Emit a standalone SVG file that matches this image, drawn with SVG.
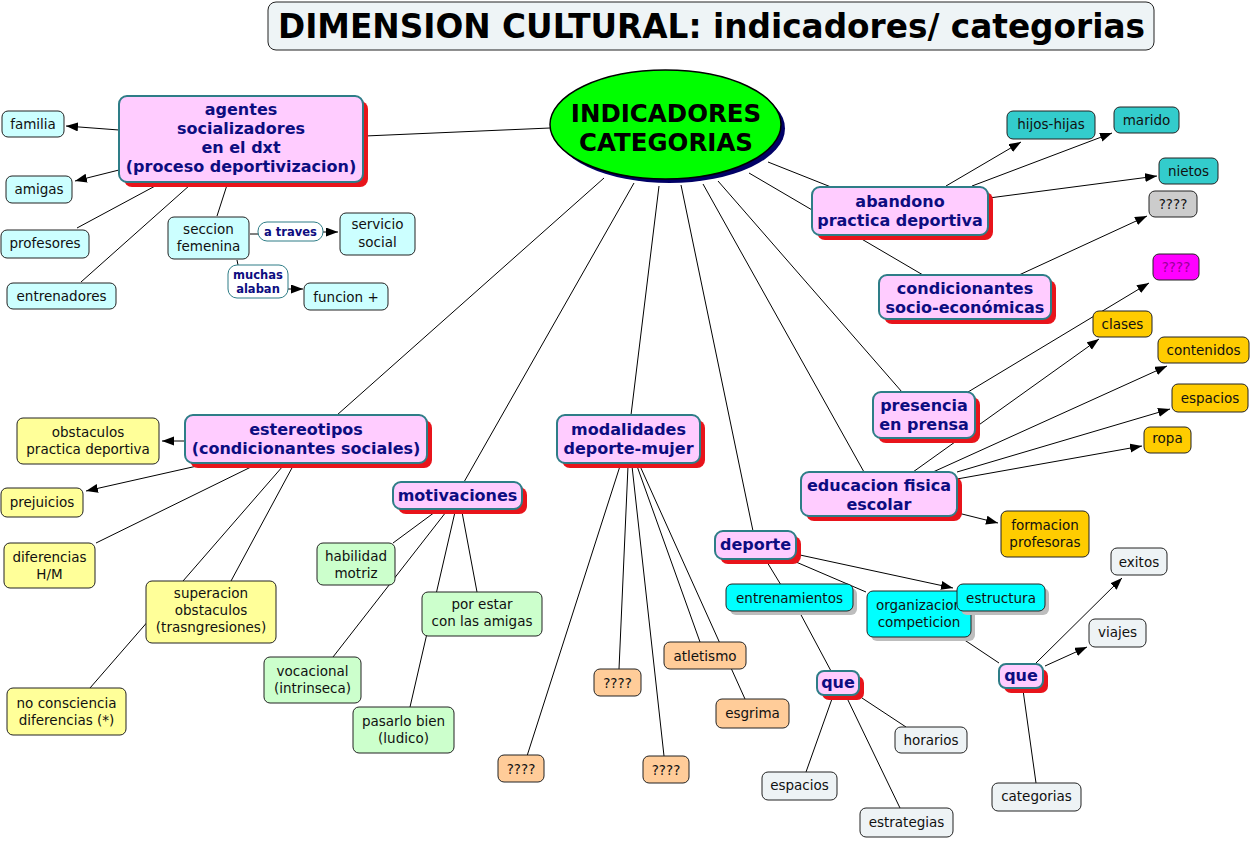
<svg xmlns="http://www.w3.org/2000/svg" width="1253" height="841" viewBox="0 0 1253 841">
<defs>
<marker id="ah" markerUnits="userSpaceOnUse" markerWidth="13" markerHeight="10" refX="12" refY="4.5" orient="auto"><path d="M0,0 L12,4.5 L0,9 z" fill="#000"/></marker>
<style>
.c{stroke:#000;stroke-width:1;fill:none}
.a{marker-end:url(#ah)}
.p{fill:#FFCCFF;stroke:#2E7D87;stroke-width:2}
.ps{fill:#E8141B}
.gs{fill:#BDBDBD}
.n{stroke:#222;stroke-width:1}
.lb{fill:#fff;stroke:#2E7D87;stroke-width:1}
.b{font-family:"DejaVu Sans",Verdana,sans-serif;font-weight:bold;font-size:16px;fill:#0D0D80;text-anchor:middle}
.s{font-family:"DejaVu Sans",Verdana,sans-serif;font-weight:bold;font-size:11.5px;fill:#0D0D80;text-anchor:middle}
.t{font-family:"DejaVu Sans",Verdana,sans-serif;font-size:13.5px;fill:#111;text-anchor:middle}
.cy{fill:#CCFFFF}.tl{fill:#33CCCC}.gr{fill:#CCCCCC}.mg{fill:#FF00FF}.yl{fill:#FFCC00}.ly{fill:#FFFF99}.lg{fill:#CCFFCC}.or{fill:#FFCC99}.bc{fill:#00FFFF}.lt{fill:#EEF3F5}
</style>
</defs>
<rect width="1253" height="841" fill="#fff"/>

<g id="connectors">
<path class="c" d="M550,128 L365,136"/>
<path class="c a" d="M119,130 L66,126"/>
<path class="c a" d="M119,170 L75,181"/>
<path class="c" d="M157,185 L77,228"/>
<path class="c" d="M190,185 L81,282"/>
<path class="c" d="M227,185 L217,216"/>
<path class="c" d="M250,234 L258,234"/>
<path class="c a" d="M323,232 L338,232"/>
<path class="c" d="M237,260 L238,265"/>
<path class="c a" d="M288,289 L303,289"/>
<path class="c" d="M768,162 L831,187"/>
<path class="c" d="M749,173 L923,275"/>
<path class="c a" d="M946,186 L1021,142"/>
<path class="c a" d="M972,186 L1112,133"/>
<path class="c a" d="M989,198 L1157,176"/>
<path class="c a" d="M1019,275 L1147,216"/>
<path class="c" d="M718,181 L902,392"/>
<path class="c" d="M703,184 L864,472"/>
<path class="c" d="M681,185 L753,531"/>
<path class="c" d="M659,186 L631,415"/>
<path class="c" d="M634,183 L464,482"/>
<path class="c" d="M604,178 L337,415"/>
<path class="c a" d="M968,392 L1149,283"/>
<path class="c a" d="M913,472 L1099,339"/>
<path class="c a" d="M933,472 L1167,366"/>
<path class="c a" d="M957,472 L1170,409"/>
<path class="c a" d="M957,479 L1142,446"/>
<path class="c a" d="M958,513 L998,523"/>
<path class="c a" d="M185,441 L162,441"/>
<path class="c a" d="M197,466 L86,491"/>
<path class="c" d="M253,466 L96,543"/>
<path class="c" d="M283,466 L90,688"/>
<path class="c" d="M293,466 L231,581"/>
<path class="c" d="M435,512 L393,543"/>
<path class="c" d="M446,512 L333,657"/>
<path class="c" d="M462,512 L477,592"/>
<path class="c" d="M455,512 L410,707"/>
<path class="c" d="M620,466 L527,756"/>
<path class="c" d="M628,466 L619,669"/>
<path class="c" d="M632,466 L664,756"/>
<path class="c" d="M637,466 L700,642"/>
<path class="c" d="M640,466 L745,699"/>
<path class="c" d="M767,562 L781,585"/>
<path class="c" d="M796,562 L866,592"/>
<path class="c a" d="M800,555 L953,588"/>
<path class="c" d="M800,613 L831,671"/>
<path class="c" d="M833,696 L806,772"/>
<path class="c" d="M846,696 L900,808"/>
<path class="c" d="M862,698 L906,727"/>
<path class="c" d="M963,639 L999,663"/>
<path class="c a" d="M1036,663 L1122,578"/>
<path class="c a" d="M1045,666 L1087,647"/>
<path class="c" d="M1023,690 L1036,783"/>
</g>

<g id="title">
<rect x="268" y="2" width="886" height="48" rx="8" fill="#EEF4F6" stroke="#222" stroke-width="1"/>
<text x="278" y="38" textLength="867" lengthAdjust="spacingAndGlyphs" style="font-family:'DejaVu Sans',Verdana,sans-serif;font-weight:bold;font-size:34px;fill:#000">DIMENSION CULTURAL: indicadores/ categorias</text>
</g>

<g id="center">
<ellipse cx="669.5" cy="128.5" rx="115.5" ry="54.5" fill="#000066"/>
<ellipse cx="665.5" cy="124.5" rx="115.5" ry="54.5" fill="#00FF00" stroke="#000" stroke-width="1.5"/>
<text x="666" y="122" style="font-family:'DejaVu Sans',Verdana,sans-serif;font-weight:bold;font-size:24.5px;fill:#000;text-anchor:middle">INDICADORES</text>
<text x="666" y="151" style="font-family:'DejaVu Sans',Verdana,sans-serif;font-weight:bold;font-size:24.5px;fill:#000;text-anchor:middle">CATEGORIAS</text>
</g>

<g id="agentes">
<rect class="ps" x="124" y="101" width="244" height="86" rx="8"/>
<rect class="p" x="119" y="96" width="244" height="86" rx="8"/>
<text class="b" x="241" y="115">agentes</text>
<text class="b" x="241" y="134">socializadores</text>
<text class="b" x="241" y="153">en el dxt</text>
<text class="b" x="241" y="172">(proceso deportivizacion)</text>
</g>
<g id="familia"><rect class="n cy" x="2" y="111" width="62" height="26" rx="6"/><text class="t" x="33" y="129">familia</text></g>
<g id="amigas"><rect class="n cy" x="6" y="176" width="66" height="27" rx="6"/><text class="t" x="39" y="194">amigas</text></g>
<g id="profesores"><rect class="n cy" x="1" y="230" width="88" height="28" rx="6"/><text class="t" x="45" y="248">profesores</text></g>
<g id="entrenadores"><rect class="n cy" x="7" y="283" width="109" height="26" rx="6"/><text class="t" x="61.5" y="301">entrenadores</text></g>
<g id="seccion"><rect class="n cy" x="168" y="217" width="81" height="42" rx="6"/><text class="t" x="208.5" y="234">seccion</text><text class="t" x="208.5" y="251">femenina</text></g>
<g id="servicio"><rect class="n cy" x="340" y="213" width="75" height="42" rx="6"/><text class="t" x="377.5" y="229">servicio</text><text class="t" x="377.5" y="247">social</text></g>
<g id="funcion"><rect class="n cy" x="304" y="283" width="84" height="27" rx="6"/><text class="t" x="346" y="302">funcion +</text></g>
<g id="lbl-atraves"><rect class="lb" x="258" y="222" width="65" height="19" rx="9"/><text class="s" x="290.5" y="236">a traves</text></g>
<g id="lbl-muchas"><rect class="lb" x="228" y="265" width="60" height="33" rx="9"/><text class="s" x="258" y="279">muchas</text><text class="s" x="258" y="293">alaban</text></g>

<g id="abandono">
<rect class="ps" x="817" y="192" width="176" height="48" rx="8"/>
<rect class="p" x="812" y="187" width="176" height="48" rx="8"/>
<text class="b" x="900" y="207">abandono</text>
<text class="b" x="900" y="226">practica deportiva</text>
</g>
<g id="condicionantes">
<rect class="ps" x="884" y="280" width="172" height="44" rx="8"/>
<rect class="p" x="879" y="275" width="172" height="44" rx="8"/>
<text class="b" x="965" y="294">condicionantes</text>
<text class="b" x="965" y="313">socio-económicas</text>
</g>
<g id="hijos"><rect class="n tl" x="1007" y="111" width="88" height="28" rx="6"/><text class="t" x="1051" y="129">hijos-hijas</text></g>
<g id="marido"><rect class="n tl" x="1114" y="107" width="65" height="26" rx="6"/><text class="t" x="1146.5" y="125">marido</text></g>
<g id="nietos"><rect class="n tl" x="1159" y="158" width="59" height="26" rx="6"/><text class="t" x="1188.5" y="176">nietos</text></g>
<g id="q-grey"><rect class="n gr" x="1149" y="191" width="48" height="26" rx="6"/><text class="t" x="1173" y="209">????</text></g>
<g id="q-magenta"><rect class="n mg" x="1153" y="254" width="46" height="26" rx="6"/><text class="t" x="1176" y="272" style="fill:#990099">????</text></g>

<g id="presencia">
<rect class="ps" x="878" y="397" width="102" height="46" rx="8"/>
<rect class="p" x="873" y="392" width="102" height="46" rx="8"/>
<text class="b" x="924" y="411">presencia</text>
<text class="b" x="924" y="430">en prensa</text>
</g>
<g id="clases"><rect class="n yl" x="1093" y="311" width="59" height="26" rx="6"/><text class="t" x="1122.5" y="329">clases</text></g>
<g id="contenidos"><rect class="n yl" x="1158" y="337" width="91" height="26" rx="6"/><text class="t" x="1203.5" y="355">contenidos</text></g>
<g id="espacios-y"><rect class="n yl" x="1172" y="384" width="76" height="28" rx="6"/><text class="t" x="1210" y="403">espacios</text></g>
<g id="ropa"><rect class="n yl" x="1144" y="427" width="47" height="26" rx="6"/><text class="t" x="1167.5" y="443">ropa</text></g>
<g id="formacion"><rect class="n yl" x="1001" y="511" width="88" height="46" rx="6"/><text class="t" x="1045" y="530">formacion</text><text class="t" x="1045" y="547">profesoras</text></g>

<g id="educacion">
<rect class="ps" x="806" y="477" width="156" height="44" rx="8"/>
<rect class="p" x="801" y="472" width="156" height="44" rx="8"/>
<text class="b" x="879" y="491">educacion fisica</text>
<text class="b" x="879" y="510">escolar</text>
</g>

<g id="estereotipos">
<rect class="ps" x="190" y="420" width="242" height="48" rx="8"/>
<rect class="p" x="185" y="415" width="242" height="48" rx="8"/>
<text class="b" x="306" y="435">estereotipos</text>
<text class="b" x="306" y="454">(condicionantes sociales)</text>
</g>
<g id="obstaculos"><rect class="n ly" x="17" y="418" width="142" height="46" rx="6"/><text class="t" x="88" y="437">obstaculos</text><text class="t" x="88" y="454">practica deportiva</text></g>
<g id="prejuicios"><rect class="n ly" x="1" y="488" width="82" height="29" rx="6"/><text class="t" x="42" y="507">prejuicios</text></g>
<g id="diferencias"><rect class="n ly" x="4" y="543" width="91" height="45" rx="6"/><text class="t" x="49.5" y="562">diferencias</text><text class="t" x="49.5" y="579">H/M</text></g>
<g id="superacion"><rect class="n ly" x="146" y="581" width="130" height="62" rx="6"/><text class="t" x="211" y="598">superacion</text><text class="t" x="211" y="615">obstaculos</text><text class="t" x="211" y="632">(trasngresiones)</text></g>
<g id="noconsciencia"><rect class="n ly" x="7" y="688" width="119" height="47" rx="6"/><text class="t" x="66.5" y="708">no consciencia</text><text class="t" x="66.5" y="725">diferencias (*)</text></g>

<g id="motivaciones">
<rect class="ps" x="398" y="487" width="129" height="27" rx="8"/>
<rect class="p" x="393" y="482" width="129" height="27" rx="8"/>
<text class="b" x="457.5" y="501">motivaciones</text>
</g>
<g id="habilidad"><rect class="n lg" x="317" y="543" width="78" height="42" rx="6"/><text class="t" x="356" y="561">habilidad</text><text class="t" x="356" y="578">motriz</text></g>
<g id="vocacional"><rect class="n lg" x="264" y="657" width="97" height="46" rx="6"/><text class="t" x="312.5" y="676">vocacional</text><text class="t" x="312.5" y="693">(intrinseca)</text></g>
<g id="porestar"><rect class="n lg" x="422" y="592" width="120" height="44" rx="6"/><text class="t" x="482" y="609">por estar</text><text class="t" x="482" y="626">con las amigas</text></g>
<g id="pasarlo"><rect class="n lg" x="353" y="707" width="101" height="46" rx="6"/><text class="t" x="403.5" y="726">pasarlo bien</text><text class="t" x="403.5" y="743">(ludico)</text></g>

<g id="modalidades">
<rect class="ps" x="562" y="420" width="143" height="48" rx="8"/>
<rect class="p" x="557" y="415" width="143" height="48" rx="8"/>
<text class="b" x="628.5" y="435">modalidades</text>
<text class="b" x="628.5" y="454">deporte-mujer</text>
</g>
<g id="q-or1"><rect class="n or" x="498" y="755" width="46" height="27" rx="6"/><text class="t" x="521" y="774">????</text></g>
<g id="q-or2"><rect class="n or" x="594" y="669" width="47" height="27" rx="6"/><text class="t" x="617.5" y="688">????</text></g>
<g id="q-or3"><rect class="n or" x="643" y="756" width="46" height="27" rx="6"/><text class="t" x="666" y="775">????</text></g>
<g id="atletismo"><rect class="n or" x="664" y="642" width="82" height="27" rx="6"/><text class="t" x="705" y="661">atletismo</text></g>
<g id="esgrima"><rect class="n or" x="716" y="699" width="73" height="29" rx="6"/><text class="t" x="752.5" y="718">esgrima</text></g>

<g id="deporte">
<rect class="ps" x="720" y="536" width="81" height="28" rx="8"/>
<rect class="p" x="715" y="531" width="81" height="28" rx="8"/>
<text class="b" x="755.5" y="550">deporte</text>
</g>
<g id="entrenamientos"><rect class="gs" x="730" y="588" width="127" height="27" rx="6"/><rect class="n bc" x="726" y="584" width="127" height="27" rx="6"/><text class="t" x="789.5" y="603">entrenamientos</text></g>
<g id="organizacion"><rect class="gs" x="871" y="595" width="104" height="46" rx="6"/><rect class="n bc" x="867" y="591" width="104" height="46" rx="6"/><text class="t" x="919" y="610">organizacion</text><text class="t" x="919" y="627">competicion</text></g>
<g id="estructura"><rect class="gs" x="961" y="588" width="88" height="27" rx="6"/><rect class="n bc" x="957" y="584" width="88" height="27" rx="6"/><text class="t" x="1001" y="603">estructura</text></g>

<g id="que1">
<rect class="ps" x="822" y="676" width="42" height="24" rx="7"/>
<rect class="p" x="817" y="671" width="42" height="24" rx="7"/>
<text class="b" x="838" y="688">que</text>
</g>
<g id="que2">
<rect class="ps" x="1004" y="669" width="44" height="24" rx="7"/>
<rect class="p" x="999" y="664" width="44" height="24" rx="7"/>
<text class="b" x="1021" y="681">que</text>
</g>
<g id="horarios"><rect class="n lt" x="895" y="727" width="72" height="26" rx="6"/><text class="t" x="931" y="745">horarios</text></g>
<g id="espacios-l"><rect class="n lt" x="762" y="772" width="75" height="28" rx="6"/><text class="t" x="799.5" y="790">espacios</text></g>
<g id="estrategias"><rect class="n lt" x="860" y="808" width="93" height="29" rx="6"/><text class="t" x="906.5" y="827">estrategias</text></g>
<g id="exitos"><rect class="n lt" x="1111" y="548" width="56" height="27" rx="6"/><text class="t" x="1139" y="567">exitos</text></g>
<g id="viajes"><rect class="n lt" x="1089" y="619" width="57" height="28" rx="6"/><text class="t" x="1117.5" y="637">viajes</text></g>
<g id="categorias"><rect class="n lt" x="992" y="783" width="89" height="28" rx="6"/><text class="t" x="1036.5" y="801">categorias</text></g>
</svg>
